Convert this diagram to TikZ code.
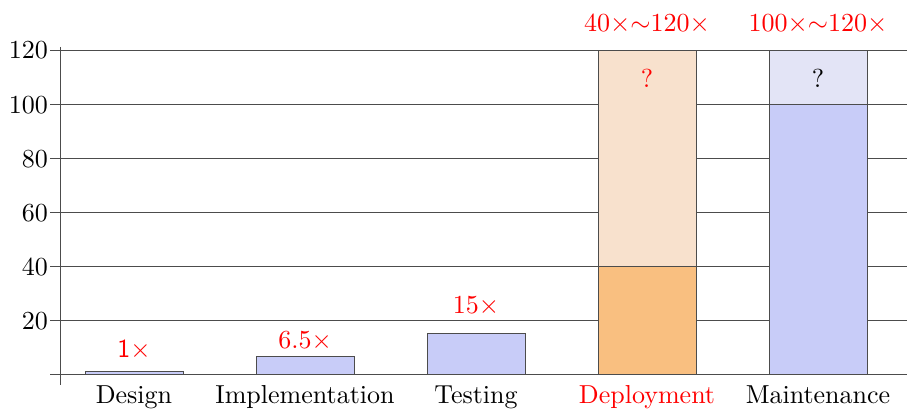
\documentclass[tikz,border=0pt]{standalone}
\usepackage{graphicx}
\newcommand{\sz}[1]{\scalebox{2.6}{#1}}
\begin{document}
\begin{tikzpicture}[x=1pt,y=-1pt,
  grid/.style={draw=black!70,line width=0.8pt},
  barbox/.style={draw=black!70,line width=0.9pt},
  lbl/.style={font=\normalsize,inner sep=0pt},
  redlbl/.style={lbl,text=red},
  ticklbl/.style={lbl,anchor=base east}]
\useasboundingbox (0,0) rectangle (907,412);
\definecolor{barblue}{RGB}{200,204,248}
\definecolor{barbluelight}{RGB}{227,228,246}
\definecolor{barorange}{RGB}{249,191,128}
\definecolor{barorangelight}{RGB}{248,225,205}
% grid and ticks
\foreach \v in {0,20,...,120}{
  \pgfmathsetmacro{\py}{374-2.7*\v}
  \draw[grid] (50,\py) -- (907,\py);
}
\foreach \v/\py in {20/320,40/266,60/212,80/158,100/104,120/50}{
  \node[ticklbl] (t\v) at (48,\py+9) {\sz{\v}};
}
\coordinate (axtop) at (60,47);
\coordinate (axbot) at (60,385);
\draw[grid] (axtop) -- (axbot);
% bars
\filldraw[barbox,fill=barblue] (85,371.3) rectangle (183,374);
\filldraw[barbox,fill=barblue] (256,356.45) rectangle (354,374);
\filldraw[barbox,fill=barblue] (427,333.5) rectangle (525,374);
\filldraw[barbox,fill=barorange] (598,266) rectangle (696,374);
\filldraw[barbox,fill=barorangelight] (598,50) rectangle (696,266);
\filldraw[barbox,fill=barblue] (769,104) rectangle (867,374);
\filldraw[barbox,fill=barbluelight] (769,50) rectangle (867,104);
% value labels
\node[redlbl,anchor=base] (l1) at (134,357) {\sz{{\sffamily 1}$\times$}};
\node[redlbl,anchor=base] (l2) at (305,348) {\sz{$6.5\times$}};
\node[redlbl,anchor=base] (l3) at (476,313) {\sz{$15\times$}};
\node[redlbl,anchor=base] (l4) at (647,32) {\sz{$40{\times}{\sim}120{\times}$}};
\node[redlbl,anchor=base] (l5) at (818,32) {\sz{$100{\times}{\sim}120{\times}$}};
\node[redlbl,anchor=base] (q4) at (647,88) {\sz{?}};
\node[lbl,anchor=base] (q5) at (818,88) {\sz{?}};
% category labels
\node[lbl,anchor=base] (c1) at (134,403) {\sz{Design}};
\node[lbl,anchor=base] (c2) at (305,403) {\sz{Implementation}};
\node[lbl,anchor=base] (c3) at (476,403) {\sz{Testing}};
\node[lbl,anchor=base,text=red] (c4) at (647,403) {\sz{Deployment}};
\node[lbl,anchor=base] (c5) at (818,403) {\sz{Maintenance}};
\end{tikzpicture}
\end{document}
